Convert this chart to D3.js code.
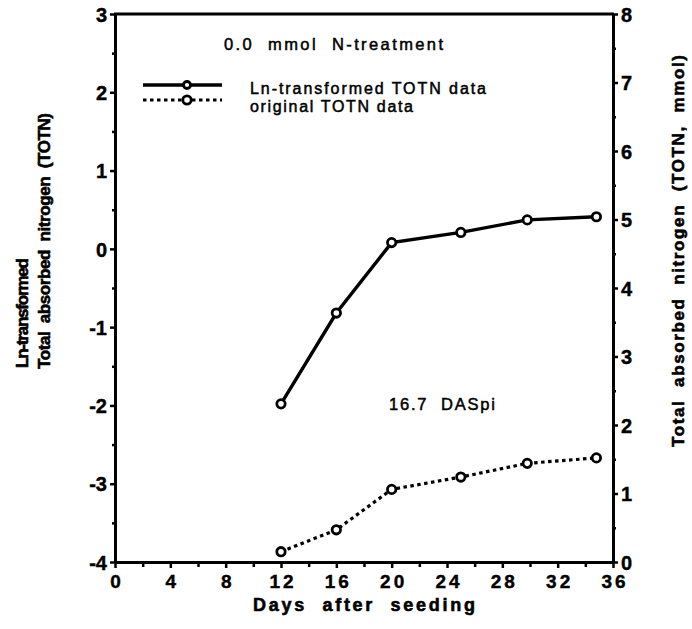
<!DOCTYPE html>
<html>
<head>
<meta charset="utf-8">
<script src="https://cdn.jsdelivr.net/npm/d3@7"></script>
<style>
  html, body { margin: 0; padding: 0; background: #fff; }
  svg { display: block; }
  text { font-family: "Liberation Sans", Arial, Helvetica, sans-serif; fill: #000; white-space: pre; }
</style>
</head>
<body>
<svg id="chart" width="692" height="629"></svg>
<script>
// ---- data ----
const days = [12, 16, 20, 25, 29.8, 34.8];
const lnTOTN = [-1.98, -0.82, 0.08, 0.21, 0.37, 0.41];
const origTOTN = [0.15, 0.47, 1.06, 1.24, 1.44, 1.52];
const xTicks = [0, 4, 8, 12, 16, 20, 24, 28, 32, 36];
const leftTicks = [-4, -3, -2, -1, 0, 1, 2, 3];
const rightTicks = [0, 1, 2, 3, 4, 5, 6, 7, 8];
const seriesNames = ["Ln-transformed TOTN data", "original TOTN data"];

// ---- layout ----
const svg = d3.select("#chart");
const X0 = 115, X1 = 613, Y0 = 14, Y1 = 562;
const x = d3.scaleLinear().domain([0, 36]).range([X0, X1]);
const yL = d3.scaleLinear().domain([-4, 3]).range([Y1, Y0]);
const yR = d3.scaleLinear().domain([0, 8]).range([Y1, Y0]);

const AX_W = 3;
const fmt = d => String(d); // plain hyphen-minus like the reference

const xMinor = d3.range(2, 36, 4);
const lMinor = d3.range(-3.5, 3, 1);
const rMinor = d3.range(0.5, 8, 1);

function styleAxis(g, size) {
  g.select(".domain").attr("stroke", "#000").attr("stroke-width", AX_W);
  g.selectAll(".tick line").attr("stroke", "#000").attr("stroke-width", 2.5);
  g.selectAll(".tick text").attr("font-weight", "bold").attr("font-size", size)
    .attr("font-family", "Liberation Sans, Arial, sans-serif").attr("fill", "#000")
    .attr("stroke", "#000").attr("stroke-width", 0.4);
}
function minorStyle(g) {
  g.select(".domain").remove();
  g.selectAll(".tick line").attr("stroke", "#000").attr("stroke-width", 2.5);
}

// X axis (bottom)
const gx = svg.append("g").attr("transform", `translate(0,${Y1})`)
  .call(d3.axisBottom(x).tickValues(xTicks).tickSize(6).tickSizeOuter(0).tickPadding(7).tickFormat(fmt));
styleAxis(gx, 19);
gx.selectAll(".tick text").attr("letter-spacing", 3).attr("dx", 1.5);
svg.append("g").attr("transform", `translate(0,${Y1})`)
  .call(d3.axisBottom(x).tickValues(xMinor).tickSize(5).tickFormat(""))
  .call(minorStyle);

// Left axis
const gl = svg.append("g").attr("transform", `translate(${X0},0)`)
  .call(d3.axisLeft(yL).tickValues(leftTicks).tickSize(5).tickSizeOuter(0).tickPadding(3).tickFormat(fmt));
styleAxis(gl, 20);
gl.selectAll(".tick text").attr("dy", "0.36em");
svg.append("g").attr("transform", `translate(${X0},0)`)
  .call(d3.axisLeft(yL).tickValues(lMinor).tickSize(3).tickFormat(""))
  .call(minorStyle);

// Right axis
const gr = svg.append("g").attr("transform", `translate(${X1},0)`)
  .call(d3.axisRight(yR).tickValues(rightTicks).tickSize(5).tickSizeOuter(0).tickPadding(3).tickFormat(fmt));
styleAxis(gr, 20);
gr.selectAll(".tick text").attr("dy", "0.36em");
svg.append("g").attr("transform", `translate(${X1},0)`)
  .call(d3.axisRight(yR).tickValues(rMinor).tickSize(3).tickFormat(""))
  .call(minorStyle);

// Top frame line
svg.append("line").attr("x1", X0 - 1).attr("x2", X1 + 1).attr("y1", Y0).attr("y2", Y0)
  .attr("stroke", "#000").attr("stroke-width", AX_W);

// ---- series ----
const lnData = days.map((d, i) => [d, lnTOTN[i]]);
const origData = days.map((d, i) => [d, origTOTN[i]]);

svg.append("path").datum(lnData)
  .attr("d", d3.line().x(d => x(d[0])).y(d => yL(d[1])))
  .attr("fill", "none").attr("stroke", "#000").attr("stroke-width", 3.4);
svg.append("path").datum(origData)
  .attr("d", d3.line().x(d => x(d[0])).y(d => yR(d[1])))
  .attr("fill", "none").attr("stroke", "#000").attr("stroke-width", 3.2)
  .attr("stroke-dasharray", "3.5,3.5");

svg.append("g").selectAll("circle").data(lnData).join("circle")
  .attr("cx", d => x(d[0])).attr("cy", d => yL(d[1])).attr("r", 4.2)
  .attr("fill", "#fff").attr("stroke", "#000").attr("stroke-width", 2.8);
svg.append("g").selectAll("circle").data(origData).join("circle")
  .attr("cx", d => x(d[0])).attr("cy", d => yR(d[1])).attr("r", 4.2)
  .attr("fill", "#fff").attr("stroke", "#000").attr("stroke-width", 2.8);

// ---- annotation texts ----
function txt(str, xx, yy, size, weight, width, rotate, thick) {
  const t = svg.append("text").attr("font-size", size).attr("font-weight", weight).text(str);
  if (rotate) {
    t.attr("transform", `translate(${xx},${yy}) rotate(-90)`);
  } else {
    t.attr("x", xx).attr("y", yy);
  }
  if (width) t.attr("textLength", width).attr("lengthAdjust", "spacing");
  if (thick) t.attr("stroke", "#000").attr("stroke-width", thick);
  return t;
}

txt("0.0  mmol  N-treatment", 224, 50, 16.5, "normal", 219, false, 0.5);

// Legend
const legY = [85, 100];
svg.append("line").attr("x1", 143).attr("x2", 222).attr("y1", legY[0]).attr("y2", legY[0])
  .attr("stroke", "#000").attr("stroke-width", 3.4);
svg.append("line").attr("x1", 143).attr("x2", 222).attr("y1", legY[1]).attr("y2", legY[1])
  .attr("stroke", "#000").attr("stroke-width", 3.2).attr("stroke-dasharray", "3.5,3.5");
legY.forEach((yy, i) => svg.append("circle").attr("cx", 187).attr("cy", yy).attr("r", i === 0 ? 3.5 : 4.2)
  .attr("fill", "#fff").attr("stroke", "#000").attr("stroke-width", 2.8));
txt(seriesNames[0], 250, 94, 16, "normal", 236, false, 0.5);
txt(seriesNames[1], 250, 112, 16, "normal", 163, false, 0.5);

txt("16.7  DASpi", 389, 410, 16.5, "normal", 106, false, 0.5);

// Axis titles
txt("Ln-transformed", 28, 368, 17, "bold", 110, true, 0.6);
txt("Total  absorbed  nitrogen  (TOTN)", 50, 369, 17, "bold", 256, true, 0.6);
txt("Total  absorbed  nitrogen  (TOTN,  mmol)", 684, 447, 17, "bold", 392, true, 0.6);
txt("Days  after  seeding", 253, 611, 18, "bold", 222, false, 0.6);
</script>
</body>
</html>
